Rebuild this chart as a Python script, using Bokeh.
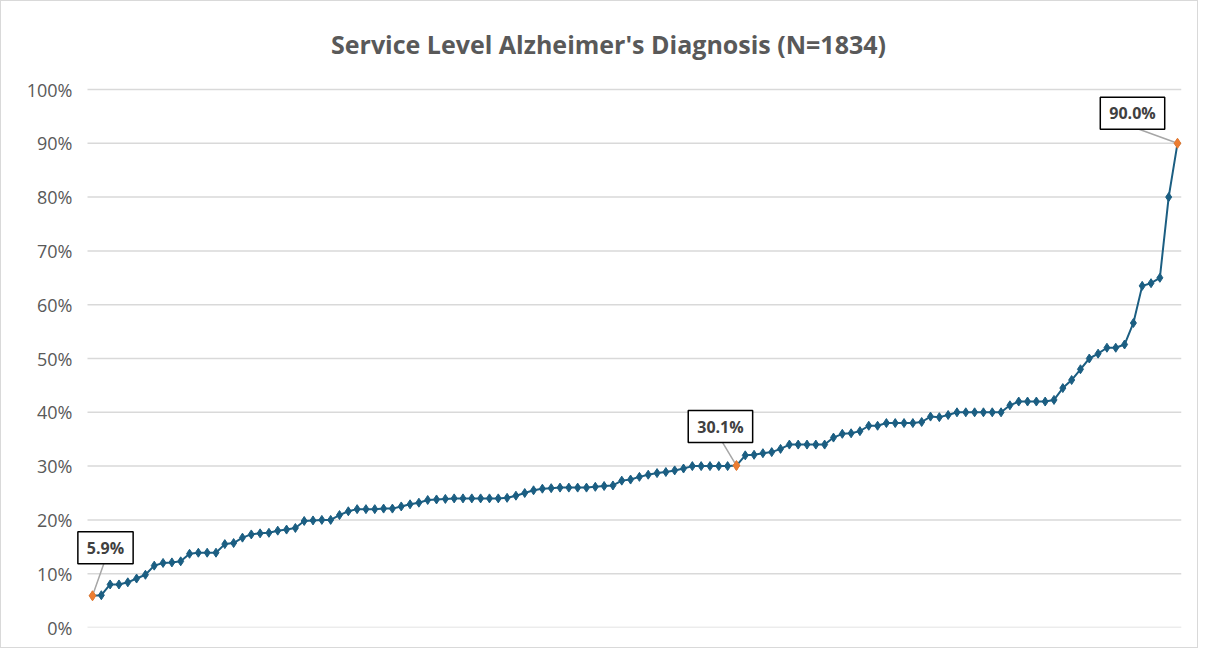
from bokeh.plotting import figure
from bokeh.models import Range1d, FixedTicker, Label, ColumnDataSource
from bokeh.embed import file_html
from bokeh.resources import INLINE

# ---- data ----
title_text = "Service Level Alzheimer's Diagnosis (N=1834)"
rates = [
    5.9, 6.0, 8.0, 8.0, 8.4, 9.1, 9.8, 11.5, 12.0, 12.1,
    12.3, 13.7, 13.9, 13.9, 13.9, 15.5, 15.7, 16.7, 17.3, 17.5,
    17.6, 18.0, 18.2, 18.5, 19.8, 19.9, 20.0, 20.0, 20.9, 21.6,
    22.0, 22.0, 22.0, 22.1, 22.1, 22.5, 22.9, 23.2, 23.7, 23.8,
    23.9, 24.0, 24.0, 24.0, 24.0, 24.0, 24.0, 24.1, 24.5, 25.0,
    25.5, 25.8, 25.9, 26.0, 26.0, 26.0, 26.0, 26.15, 26.3, 26.4,
    27.3, 27.5, 28.0, 28.4, 28.7, 28.9, 29.2, 29.55, 30.0, 30.0,
    30.0, 30.0, 30.0, 30.1, 32.0, 32.1, 32.4, 32.6, 33.2, 34.0,
    34.0, 34.0, 34.0, 34.0, 35.3, 36.0, 36.1, 36.5, 37.5, 37.5,
    38.0, 38.0, 38.0, 38.0, 38.2, 39.2, 39.1, 39.5, 40.0, 40.0,
    40.0, 40.0, 40.0, 40.0, 41.3, 42.0, 42.0, 42.0, 42.0, 42.3,
    44.5, 46.0, 48.0, 50.0, 50.9, 52.0, 52.0, 52.6, 56.6, 63.5,
    64.0, 65.0, 80.0, 90.0,
]
highlight_idx = [0, 73, 123]
highlight_text = ["5.9%", "30.1%", "90.0%"]
y_ticks = [0, 10, 20, 30, 40, 50, 60, 70, 80, 90, 100]
y_tick_labels = ["0%", "10%", "20%", "30%", "40%", "50%", "60%", "70%", "80%", "90%", "100%"]

# ---- styling / layout ----
LINE = "#1b5e82"
ORANGE = "#ed7d31"
GREY = "#595959"
n = len(rates)
W, H = 1198, 648
ML, MR, MT, MB = 74, 18, 8, 22
frame_w = W - ML - MR
frame_h = H - MT - MB
PX = 8.82                      # pixels per category step
PLOT_H = 538                   # pixels spanned by 0..100 %
x0 = -17 / PX
x1 = (n - 1) + 4 / PX
xpp = (x1 - x0) / frame_w      # data units per pixel
ypp = 100.0 / PLOT_H
y_top = frame_h * ypp
grid_start = x0 + 12 * xpp

p = figure(width=W, height=H, output_backend="svg", toolbar_location=None,
           x_range=Range1d(x0, x1), y_range=Range1d(0, y_top),
           min_border_left=ML, min_border_right=MR, min_border_top=MT,
           min_border_bottom=MB)
p.styles = {"border": "1px solid #d9d9d9"}
p.outline_line_color = None

# title drawn as a label in the space above the 100% line
p.add_layout(Label(x=x0 + 533 * xpp, y=100 + 46 * ypp, text=title_text,
                   text_align="center", text_baseline="middle",
                   text_font="Open Sans", text_font_size="25px",
                   text_font_style="bold", text_color=GREY))

p.xaxis.visible = False
p.xgrid.grid_line_color = None
p.ygrid.grid_line_color = None
p.yaxis.ticker = FixedTicker(ticks=y_ticks)
p.yaxis.major_label_overrides = {t: l for t, l in zip(y_ticks, y_tick_labels)}
p.yaxis.axis_line_color = None
p.yaxis.major_tick_line_color = None
p.yaxis.minor_tick_line_color = None
p.yaxis.major_label_text_font = "Open Sans"
p.yaxis.major_label_text_font_size = "18px"
p.yaxis.major_label_text_color = GREY
p.yaxis.major_label_standoff = -3

# horizontal gridlines starting a little right of the frame edge
p.segment(x0=[grid_start] * len(y_ticks), y0=y_ticks,
          x1=[x1] * len(y_ticks), y1=y_ticks,
          line_color="#d9d9d9", line_width=1.5)

xs = list(range(n))
src = ColumnDataSource(dict(x=xs, y=rates))
p.line("x", "y", source=src, line_color=LINE, line_width=2)
p.scatter("x", "y", source=src, marker="diamond", size=9, fill_color=LINE, line_color=LINE)

# callouts (pixel offsets from the point)
box_off = [(13, 48), (-16, 39), (-45, 30)]
lead_off = [(12, 34), (-15, 25), (-44, 16)]
hx = [xs[i] for i in highlight_idx]
hy = [rates[i] for i in highlight_idx]
p.segment(x0=hx, y0=hy,
          x1=[x + o[0] * xpp for x, o in zip(hx, lead_off)],
          y1=[y + o[1] * ypp for y, o in zip(hy, lead_off)],
          line_color="#a6a6a6", line_width=1.5)
p.scatter(hx, hy, marker="diamond", size=10, fill_color=ORANGE, line_color=ORANGE)
for x, y, t, o in zip(hx, hy, highlight_text, box_off):
    p.add_layout(Label(x=x, y=y, x_offset=o[0], y_offset=o[1], text=t,
                       text_align="center", text_baseline="middle",
                       text_font="Open Sans", text_font_style="bold",
                       text_font_size="16px", text_color="#404040",
                       background_fill_color="white", border_line_color="black",
                       border_line_width=1.5,
                       padding=dict(left=9, right=9, top=5, bottom=5)))

open("out.html", "w").write(file_html(p, INLINE))
